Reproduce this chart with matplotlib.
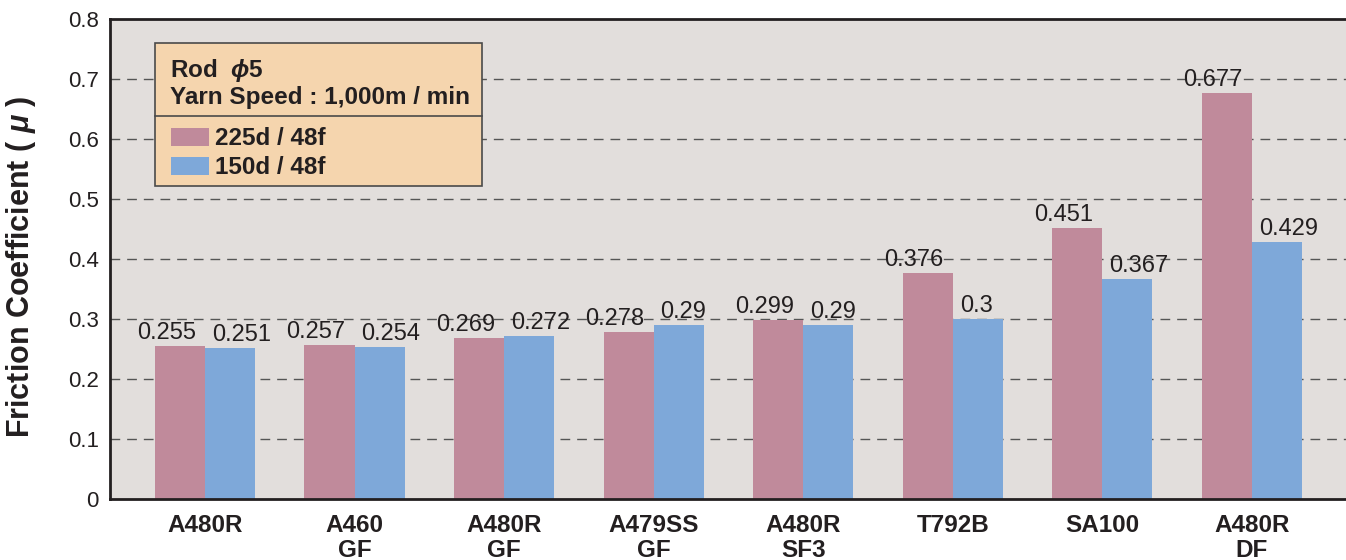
import numpy as np
import matplotlib.pyplot as plt
from matplotlib.patches import Rectangle
from matplotlib.lines import Line2D

plt.rcParams['font.family'] = ['Liberation Sans', 'DejaVu Sans']
plt.rcParams['mathtext.fontset'] = 'custom'
plt.rcParams['mathtext.it'] = 'Liberation Sans:italic:bold'
plt.rcParams['mathtext.rm'] = 'Liberation Sans:bold'
plt.rcParams['mathtext.bf'] = 'Liberation Sans:bold'

#%% Data
categories = ['A480R', 'A460\nGF', 'A480R\nGF', 'A479SS\nGF', 'A480R\nSF3',
              'T792B', 'SA100', 'A480R\nDF']
series_names = ['225d / 48f', '150d / 48f']
vals_225 = [0.255, 0.257, 0.269, 0.278, 0.299, 0.376, 0.451, 0.677]
vals_150 = [0.251, 0.254, 0.272, 0.29, 0.29, 0.3, 0.367, 0.429]
yticks = [0, 0.1, 0.2, 0.3, 0.4, 0.5, 0.6, 0.7, 0.8]
ytick_labels = ['0', '0.1', '0.2', '0.3', '0.4', '0.5', '0.6', '0.7', '0.8']

#%% Style
bg = '#E2DEDC'
pink = '#C08A9B'
blue = '#7EA8D9'
box_fill = '#F5D5AE'
txt = '#231F20'
W, H = 1346, 560

fig = plt.figure(figsize=(W / 100, H / 100), dpi=100)
ax = fig.add_axes([110 / W, 1 - 499 / H, 1 - 110 / W, 480 / H])
ax.set_facecolor(bg)

x = np.arange(len(categories))
bw = 0.335
b1 = ax.bar(x - bw / 2, vals_225, bw, color=pink, zorder=2)
b2 = ax.bar(x + bw / 2, vals_150, bw, color=blue, zorder=2)

# value labels: pink ones right-aligned, blue ones left-aligned
for rect, v in zip(b1, vals_225):
    ax.annotate(f'{v:g}', (rect.get_x() + rect.get_width(), v),
                xytext=(-6.5, 5), textcoords='offset points',
                ha='right', va='baseline', fontsize=17, color=txt, zorder=3)
for rect, v in zip(b2, vals_150):
    ax.annotate(f'{v:g}', (rect.get_x(), v),
                xytext=(5, 5), textcoords='offset points',
                ha='left', va='baseline', fontsize=17, color=txt, zorder=3)

ax.set_xlim(-0.635, len(categories) - 1 + 0.63)
ax.set_ylim(0, 0.8)
ax.set_yticks(yticks)
ax.set_yticklabels(ytick_labels, fontsize=16, color=txt)
ax.set_xticks(x)
ax.set_xticklabels(categories, fontsize=17.5, fontweight='bold', color=txt,
                   linespacing=1.12, va='top')
ax.tick_params(axis='both', length=0)
ax.tick_params(axis='y', pad=8)
ax.tick_params(axis='x', pad=11)

for yv in yticks[1:-1]:
    ax.axhline(yv, color='#555555', lw=1.0, ls=(0, (7, 5)), zorder=1)

for side in ['left', 'bottom', 'top']:
    ax.spines[side].set_color('#231F20')
    ax.spines[side].set_linewidth(2)
ax.spines['right'].set_visible(False)

ax.set_ylabel(r'Friction Coefficient ( $\mu$ )', fontsize=22,
              fontweight='bold', color=txt)
ax.yaxis.set_label_coords(-0.058, 0.483)

#%% Legend box drawn by hand (two-part box)
def fx(px):
    return px / W

def fy(py):
    return 1 - py / H

fig.add_artist(Rectangle((fx(155), fy(186)), fx(482) - fx(155), fy(43) - fy(186),
                         transform=fig.transFigure, facecolor=box_fill,
                         edgecolor='#4a4a4a', lw=1.2, zorder=5))
fig.add_artist(Line2D([fx(155), fx(482)], [fy(116), fy(116)],
                      transform=fig.transFigure, color='#4a4a4a', lw=1.2, zorder=6))
fig.text(fx(170), fy(77), r'Rod  $\it{\phi}$5', fontsize=17.5, fontweight='bold',
         color=txt, va='baseline', zorder=7)
fig.text(fx(170), fy(104), 'Yarn Speed : 1,000m / min', fontsize=17.5,
         fontweight='bold', color=txt, va='baseline', zorder=7)
for i, (name, col) in enumerate(zip(series_names, [pink, blue])):
    top = 128 + i * 29
    fig.add_artist(Rectangle((fx(171), fy(top + 18)), fx(38), fy(0) - fy(18),
                             transform=fig.transFigure, facecolor=col,
                             edgecolor='none', zorder=7))
    fig.text(fx(215), fy(top + 17), name, fontsize=17.5, fontweight='bold',
             color=txt, va='baseline', zorder=7)

fig.savefig('out.png', dpi=100, facecolor='white')
